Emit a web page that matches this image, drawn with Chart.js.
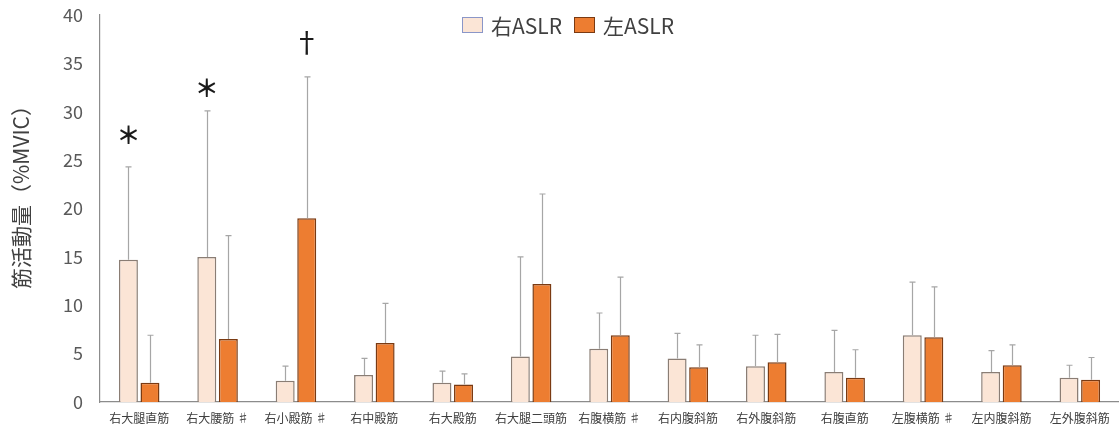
<!DOCTYPE html>
<html>
<head>
<meta charset="utf-8">
<script src="https://cdn.jsdelivr.net/npm/chart.js@4/dist/chart.umd.min.js"></script>
<style>
  body { margin: 0; background: #fff; }
  #wrap { position: relative; width: 1119px; height: 431px; }
  #legend {
    position: absolute; left: 462px; top: 10px;
    display: flex; align-items: center;
    font-family: "Noto Sans CJK JP", sans-serif; font-size: 21px; color: #404040;
  }
  #legend .box { width: 19px; height: 14px; margin-right: 8px; }
  #legend .item { display: flex; align-items: center; margin-right: 12px; }
</style>
</head>
<body>
<div id="wrap">
  <canvas id="c" width="1119" height="431"></canvas>
  <div id="legend"></div>
</div>
<script>
// ── data ────────────────────────────────────────
const muscles = ['右大腿直筋','右大腰筋 ♯','右小殿筋 ♯','右中殿筋','右大殿筋','右大腿二頭筋',
                 '右腹横筋 ♯','右内腹斜筋','右外腹斜筋','右腹直筋','左腹横筋 ♯','左内腹斜筋','左外腹斜筋'];
const seriesNames = ['右ASLR','左ASLR'];
const rightMean = [14.7, 15.0, 2.2, 2.8, 2.0, 4.7, 5.5, 4.5, 3.7, 3.1, 6.9, 3.1, 2.5];
const rightSd   = [ 9.6, 15.1, 1.5, 1.7, 1.2, 10.3, 3.7, 2.6, 3.2, 4.3, 5.5, 2.2, 1.3];
const leftMean  = [ 2.0,  6.5, 19.0, 6.1, 1.8, 12.2, 6.9, 3.6, 4.1, 2.5, 6.7, 3.8, 2.3];
const leftSd    = [ 4.9, 10.7, 14.6, 4.1, 1.1,  9.3, 6.0, 2.3, 2.9, 2.9, 5.2, 2.1, 2.3];
const yTicks    = [0, 5, 10, 15, 20, 25, 30, 35, 40];
const yTitle    = '筋活動量（%MVIC）';

// significance marks
const markText   = ['＊', '＊', '†'];
const markCat    = [0, 1, 2];
const markSeries = [0, 0, 1];
const markValue  = [27.6, 32.5, 37.2];

const fillColors   = ['#fbe5d6', '#ed7d31'];
const borderColors = ['#8a7d74', '#7a3a12'];
const legendBorder = ['#8a96c8', '#7a3a12'];
const sdList = [rightSd, leftSd];
const FONT = '"Noto Sans CJK JP", sans-serif';

// ── plugins ─────────────────────────────────────
const errorBars = {
  id: 'errorBars',
  afterDatasetsDraw(chart) {
    const ctx = chart.ctx, y = chart.scales.y;
    ctx.save();
    ctx.strokeStyle = '#a6a6a6';
    ctx.lineWidth = 1.2;
    chart.data.datasets.forEach((ds, i) => {
      chart.getDatasetMeta(i).data.forEach((bar, j) => {
        const top = y.getPixelForValue(ds.data[j] + sdList[i][j]);
        const x = Math.round(bar.x) + 0.5;
        ctx.beginPath();
        ctx.moveTo(x, bar.y);
        ctx.lineTo(x, top);
        ctx.moveTo(x - 3, top);
        ctx.lineTo(x + 3, top);
        ctx.stroke();
      });
    });
    ctx.restore();
  }
};

const sigMarks = {
  id: 'sigMarks',
  afterDatasetsDraw(chart) {
    const ctx = chart.ctx, y = chart.scales.y;
    ctx.save();
    ctx.fillStyle = '#1a1a1a';
    ctx.textAlign = 'center';
    ctx.textBaseline = 'middle';
    markText.forEach((t, k) => {
      const bar = chart.getDatasetMeta(markSeries[k]).data[markCat[k]];
      ctx.font = (t === '†' ? '28px ' : 'bold 24px ') + FONT;
      ctx.fillText(t, bar.x, y.getPixelForValue(markValue[k]));
    });
    // y axis title (sits a little above the axis centre in the original)
    ctx.translate(21, 192);
    ctx.rotate(-Math.PI / 2);
    ctx.font = '21px ' + FONT;
    ctx.fillStyle = '#404040';
    ctx.fillText(yTitle, 0, 0);
    ctx.restore();
  }
};

// ── chart ───────────────────────────────────────
const chart = new Chart(document.getElementById('c'), {
  type: 'bar',
  data: {
    labels: muscles,
    datasets: [
      { label: seriesNames[0], data: rightMean, backgroundColor: fillColors[0],
        borderColor: borderColors[0], borderWidth: 1.5 },
      { label: seriesNames[1], data: leftMean, backgroundColor: fillColors[1],
        borderColor: borderColors[1], borderWidth: 1.5 }
    ]
  },
  options: {
    responsive: false,
    animation: false,
    devicePixelRatio: 1,
    categoryPercentage: 0.55,
    barPercentage: 0.88,
    layout: { padding: 0 },
    plugins: { legend: { display: false }, tooltip: { enabled: false } },
    scales: {
      x: {
        grid: { display: false },
        border: { color: '#8c8c8c', width: 1.2 },
        ticks: { font: { size: 12, family: FONT }, color: '#404040',
                 maxRotation: 0, autoSkip: false, padding: 1 },
        afterFit: s => { s.height = 29; }
      },
      y: {
        min: 0, max: 40,
        grid: { display: false },
        border: { color: '#8c8c8c', width: 1.2 },
        afterBuildTicks: s => { s.ticks = yTicks.map(v => ({ value: v })); },
        ticks: { font: { size: 18, family: FONT }, color: '#595959', padding: 9 },
        afterFit: s => { s.width = 100; s.paddingTop = 15; s.paddingBottom = 0; }
      }
    }
  },
  plugins: [errorBars, sigMarks]
});

// html legend
document.getElementById('legend').innerHTML = seriesNames.map((n, i) =>
  `<div class="item"><div class="box" style="background:${fillColors[i]};border:1.5px solid ${legendBorder[i]}"></div>${n}</div>`
).join('');
</script>
</body>
</html>
